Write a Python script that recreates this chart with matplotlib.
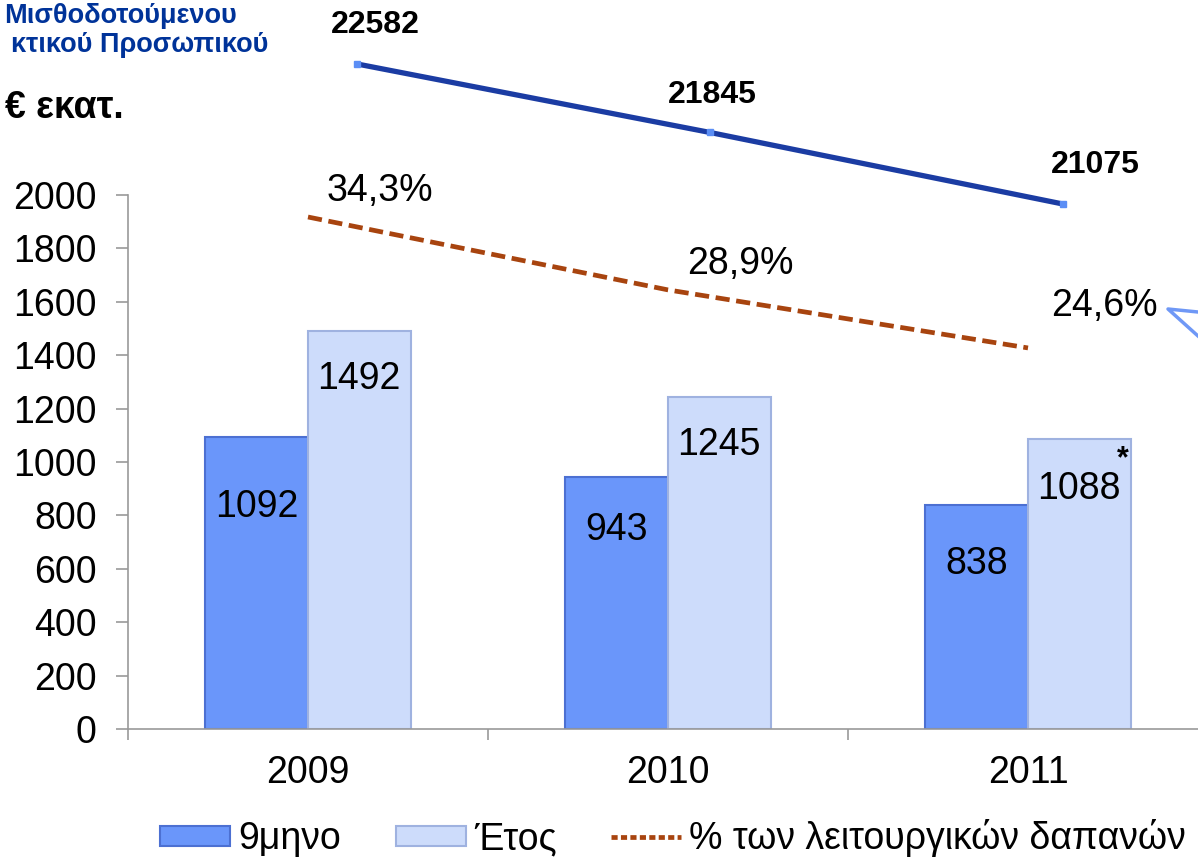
import numpy as np
import matplotlib.pyplot as plt
from matplotlib.lines import Line2D
from matplotlib.patches import Patch

plt.rcParams['font.family'] = ['Liberation Sans', 'DejaVu Sans']

# data
years = ['2009', '2010', '2011']
nine_months = [1092, 943, 838]          # 9μηνο, € εκατ.
full_year = [1492, 1245, 1088]          # Έτος, € εκατ.
pct_opex = [34.3, 28.9, 24.6]           # % των λειτουργικών δαπανών
pct_labels = ['34,3%', '28,9%', '24,6%']
staff = [22582, 21845, 21075]           # μισθοδοτούμενο προσωπικό

W, H = 1198, 859
def fx(x):
    return x / W
def fy(y):
    return 1 - y / H

fig = plt.figure(figsize=(W / 100, H / 100), dpi=100)

# main bar axes (pixel box 128..1208 x 195..729)
ax = fig.add_axes([fx(128), fy(729), (1208 - 128) / W, (729 - 195) / H])
x = np.arange(len(years))
bw = 0.285
dark_c, dark_e = '#6a96fa', '#4c70d2'
light_c, light_e = '#cddcfb', '#9fb2e0'
ax.bar(x - bw / 2, nine_months, bw, color=dark_c, edgecolor=dark_e, linewidth=1.5, zorder=2)
ax.bar(x + bw / 2, full_year, bw, color=light_c, edgecolor=light_e, linewidth=1.5, zorder=2)

ax.set_xlim(-0.5, 2.5)
ax.set_ylim(0, 2000)
ax.set_yticks(range(0, 2001, 200))
ax.set_xticks(x)
ax.set_xticklabels(years)
ax.set_xticks([-0.5, 0.5, 1.5, 2.5], minor=True)
ax.tick_params(axis='x', which='major', length=0, pad=19, labelsize=27)
ax.tick_params(axis='x', which='minor', length=8, width=1.2, color='#999999')
ax.tick_params(axis='y', length=8.5, width=1.2, color='#999999', pad=14, labelsize=27)
for s in ['top', 'right']:
    ax.spines[s].set_visible(False)
for s in ['left', 'bottom']:
    ax.spines[s].set_color('#999999')
    ax.spines[s].set_linewidth(1.2)

# bar value labels, offsets in points below bar top
dark_off = [-50, -38, -42]
light_off = [-35, -35, -36]
for xi, v, o in zip(x, nine_months, dark_off):
    ax.annotate(str(v), (xi - bw / 2, v), xytext=(0, o), textcoords='offset points',
                ha='center', va='center', fontsize=27, zorder=3)
for xi, v, o in zip(x, full_year, light_off):
    ax.annotate(str(v), (xi + bw / 2, v), xytext=(0, o), textcoords='offset points',
                ha='center', va='center', fontsize=27, zorder=3)
ax.annotate('*', (x[2] + bw / 2, full_year[2]), xytext=(31, -15), textcoords='offset points',
            ha='center', va='center', fontsize=22, fontweight='bold')

# percentage line on hidden twin axis
ax2 = ax.twinx()
ax2.set_ylim(-3.63, 35.93)
ax2.axis('off')
ax2.plot(x, pct_opex, color='#a8440f', linewidth=3.4, dashes=(3.0, 1.4), zorder=3)
pct_off = [(52, 19), (52, 19), (55, 30)]
for xi, p, lab, o in zip(x, pct_opex, pct_labels, pct_off):
    ax2.annotate(lab, (xi, p), xytext=o, textcoords='offset points',
                 ha='center', va='center', fontsize=27)

# staff line, separate overlay axes
ax3 = fig.add_axes([fx(180.5), fy(211), 1059 / W, (211 - 53) / H])
ax3.set_xlim(-0.5, 2.5)
ax3.set_ylim(21000, 22700)
ax3.axis('off')
ax3.plot(x, staff, color='#1b3ca3', linewidth=3.8, solid_capstyle='butt', zorder=2)
ax3.plot(x, staff, linestyle='none', marker='s', markersize=4.5, color='#5b8ef5', zorder=3)
staff_off = [(13, 28), (2, 27), (23, 28)]
for xi, s, o in zip(x, staff, staff_off):
    ax3.annotate(str(s), (xi, s), xytext=o, textcoords='offset points',
                 ha='center', va='center', fontsize=23, fontweight='bold')

# titles
fig.text(fx(237), fy(23), 'Μισθοδοτούμενου', ha='right', va='baseline',
         fontsize=19.5, fontweight='bold', color='#003399')
fig.text(fx(268), fy(52), 'κτικού Προσωπικού', ha='right', va='baseline',
         fontsize=19.5, fontweight='bold', color='#003399')
fig.text(fx(5), fy(118), '€ εκατ.', ha='left', va='baseline',
         fontsize=27, fontweight='bold', color='black')

# callout edge at right border
fig.add_artist(Line2D([fx(1198), fx(1168), fx(1198)], [fy(312), fy(309), fy(336)],
                      color='#6f98f6', linewidth=2.5))

# legend
handles = [Patch(facecolor=dark_c, edgecolor=dark_e, linewidth=1.5),
           Patch(facecolor=light_c, edgecolor=light_e, linewidth=1.5),
           Line2D([0], [0], color='#a8440f', linewidth=3.4, dashes=(1.3, 0.7))]
fig.legend(handles, ['9μηνο', 'Έτος', '% των λειτουργικών δαπανών'], ncol=3,
           loc='center left', bbox_to_anchor=(fx(160), fy(838)), frameon=False,
           fontsize=27, handlelength=1.87, handleheight=0.45, handletextpad=0.22,
           columnspacing=1.45, borderpad=0, borderaxespad=0)

fig.savefig('out.png', dpi=100)
